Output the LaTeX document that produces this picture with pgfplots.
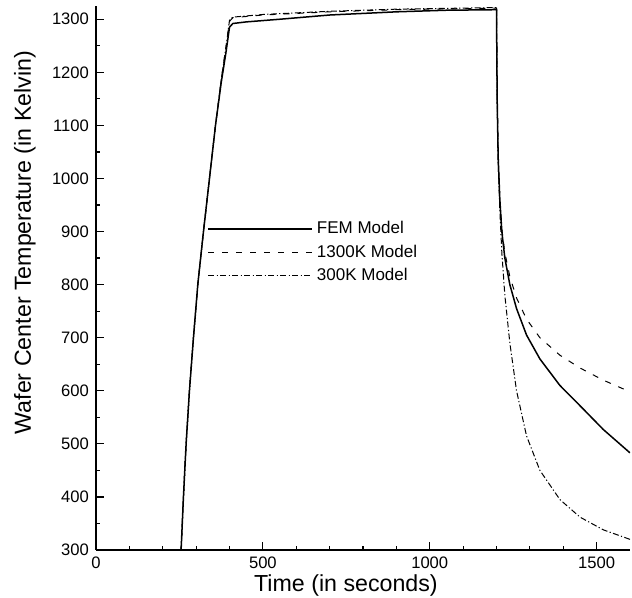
\documentclass[border=0pt]{standalone}
\usepackage{fontspec}
\setmainfont{Liberation Sans}
\usepackage{pgfplots}
\pgfplotsset{compat=1.18}

\begin{document}
\begin{tikzpicture}
\begin{axis}[
    name=ax,
    scale only axis,
    width=267pt, height=272pt,
    xmin=0, xmax=1600,
    ymin=300, ymax=1325,
    axis x line=bottom, axis y line=left,
    axis line style={-, line width=0.6pt},
    xtick={0,500,1000,1500},
    ytick={300,400,...,1300},
    minor x tick num=4,
    minor y tick num=1,
    tick align=inside,
    major tick length=4pt, minor tick length=2pt,
    tick style={black, line width=0.6pt},
    ticklabel style={font=\fontsize{8.3}{9}\selectfont},
    /pgf/number format/assume math mode=true,
    /pgf/number format/1000 sep={},
    xlabel={Time (in seconds)},
    ylabel={Wafer Center Temperature (in Kelvin)},
    label style={font=\fontsize{11.6}{13}\selectfont},
    xlabel style={at={(axis description cs:0.468,0)}, anchor=center, yshift=-18pt},
    ylabel style={at={(axis description cs:-0.133,0.565)}, anchor=center},
    legend cell align=left,
    legend style={at={(0.208,0.612)}, anchor=north west, draw=none, fill=none,
        inner sep=0pt, font=\fontsize{8.5}{10}\selectfont, row sep=0pt},
    legend image code/.code={\draw[#1] (0pt,0pt) -- (46.5pt,0pt);
        \path (0pt,0pt) -- (52pt,0pt);},
]
% FEM model
\addplot[black, line width=0.75pt] coordinates {
(0,300) (255,300) (262,400) (270,500) (280,600) (292,700) (305,800) (322,900)
(340,1000) (358,1100) (375,1180) (390,1240) (400,1285) (410,1292) (450,1295)
(550,1300) (700,1308) (900,1314) (1050,1317) (1199,1318)
(1200,1318) (1202,1150) (1205,1040) (1210,960) (1216,900) (1225,850) (1240,800)
(1260,755) (1290,705) (1330,660) (1390,610) (1450,572) (1520,527) (1600,483)
};
% 1300K model
\addplot[black, line width=0.5pt, dash pattern=on 3pt off 4pt] coordinates {
(0,300) (255,300) (262,400) (270,500) (280,600) (292,700) (305,800) (322,900)
(340,1000) (358,1100) (375,1185) (390,1250) (400,1296) (410,1303) (500,1308)
(700,1314) (900,1318) (1199,1321)
(1200,1321) (1202,1150) (1205,1040) (1210,960) (1216,905) (1225,860) (1240,815)
(1260,775) (1290,735) (1330,700) (1390,667) (1450,643) (1520,620) (1600,598)
};
% 300K model
\addplot[black, line width=0.5pt, dash pattern=on 3pt off 1.2pt on 0.6pt off 1.2pt] coordinates {
(0,300) (255,300) (262,400) (270,500) (280,600) (292,700) (305,800) (322,900)
(340,1000) (358,1100) (375,1185) (390,1250) (400,1298) (410,1304) (500,1309)
(700,1315) (900,1319) (1199,1322)
(1200,1322) (1202,1150) (1205,1030) (1210,940) (1216,860) (1225,780) (1240,690)
(1260,600) (1290,515) (1330,450) (1390,395) (1450,362) (1520,338) (1600,320)
};
\legend{FEM Model, 1300K Model, 300K Model}
\end{axis}
\pgfresetboundingbox
\path[use as bounding box] ([xshift=-48pt,yshift=-24pt]ax.south west)
    rectangle ([xshift=1pt,yshift=3pt]ax.north east);
\end{tikzpicture}
\end{document}
